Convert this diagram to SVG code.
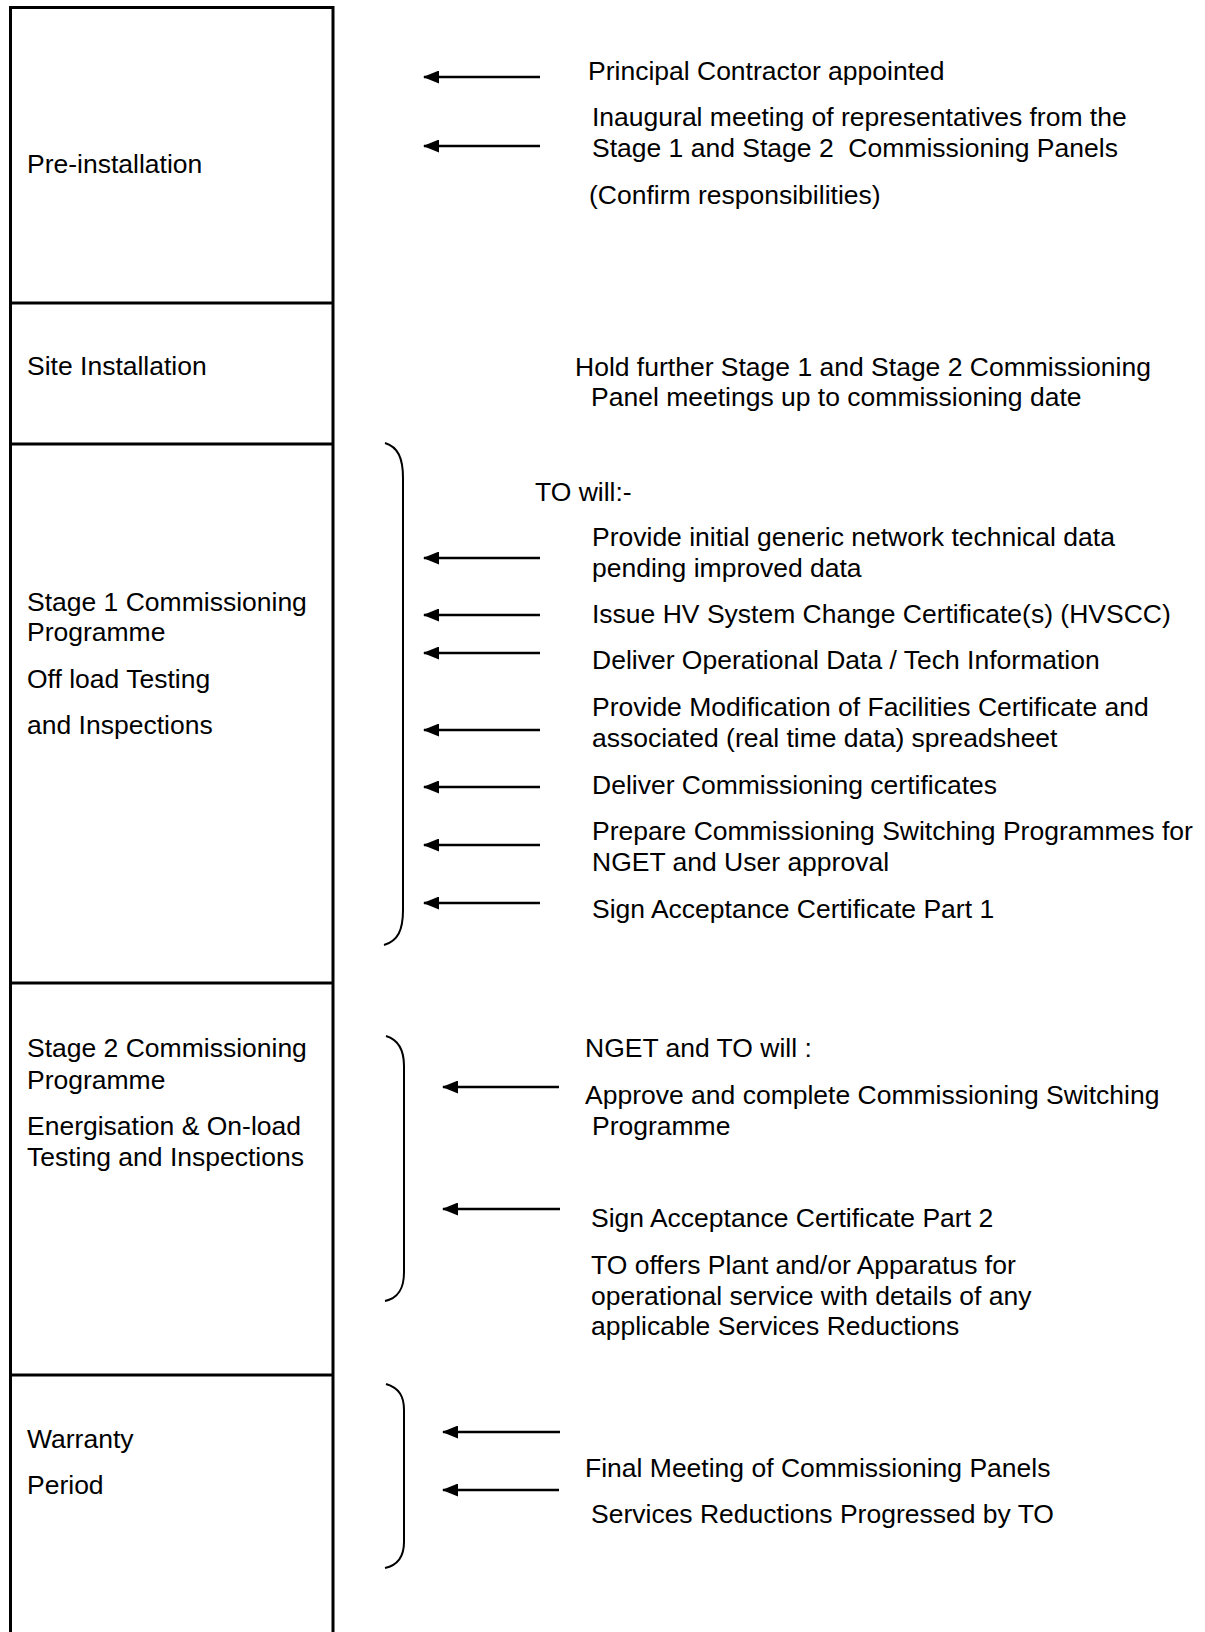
<svg xmlns="http://www.w3.org/2000/svg" width="1205" height="1632" viewBox="0 0 1205 1632">
<defs>
<marker id="ah" markerUnits="userSpaceOnUse" markerWidth="16" markerHeight="13" viewBox="0 0 16 13" refX="15" refY="6.5" orient="auto">
<path d="M0,0 L16,6.5 L0,13 z" fill="#000"/>
</marker>
<style>
text{font-family:"Liberation Sans",Arial,sans-serif;font-size:26.5px;fill:#000}
.box{fill:none;stroke:#000;stroke-width:3}
.arr{stroke:#000;stroke-width:2.6;fill:none;marker-end:url(#ah)}
.br{stroke:#000;stroke-width:2;fill:none}
</style>
</defs>
<rect width="1205" height="1632" fill="#fff"/>

<g id="phase-column">
<path class="box" d="M10.5,1640 L10.5,7.5 L333,7.5 L333,1640"/>
</g>

<g id="pre-installation">
<line class="box" x1="10.5" y1="303" x2="333" y2="303"/>
<text x="27" y="173">Pre-installation</text>
</g>
<g id="site-installation">
<line class="box" x1="10.5" y1="444" x2="333" y2="444"/>
<text x="27" y="375">Site Installation</text>
</g>
<g id="stage1">
<line class="box" x1="10.5" y1="983" x2="333" y2="983"/>
<text x="27" y="611">Stage 1 Commissioning</text>
<text x="27" y="641">Programme</text>
<text x="27" y="688">Off load Testing</text>
<text x="27" y="734">and Inspections</text>
</g>
<g id="stage2">
<line class="box" x1="10.5" y1="1375" x2="333" y2="1375"/>
<text x="27" y="1057">Stage 2 Commissioning</text>
<text x="27" y="1089">Programme</text>
<text x="27" y="1135">Energisation &amp; On-load</text>
<text x="27" y="1166">Testing and Inspections</text>
</g>
<g id="warranty">
<text x="27" y="1448">Warranty</text>
<text x="27" y="1494">Period</text>
</g>

<g id="pre-installation-actions">
<text x="588" y="80">Principal Contractor appointed</text>
<text x="592" y="126">Inaugural meeting of representatives from the</text>
<text x="592" y="157" xml:space="preserve">Stage 1 and Stage 2  Commissioning Panels</text>
<text x="589" y="204">(Confirm responsibilities)</text>
</g>
<g id="site-installation-actions">
<text x="575" y="376">Hold further Stage 1 and Stage 2 Commissioning</text>
<text x="591" y="406">Panel meetings up to commissioning date</text>
</g>
<g id="stage1-actions">
<text x="535" y="501">TO will:-</text>
<text x="592" y="546">Provide initial generic network technical data</text>
<text x="592" y="577">pending improved data</text>
<text x="592" y="623">Issue HV System Change Certificate(s) (HVSCC)</text>
<text x="592" y="669">Deliver Operational Data / Tech Information</text>
<text x="592" y="716">Provide Modification of Facilities Certificate and</text>
<text x="592" y="747">associated (real time data) spreadsheet</text>
<text x="592" y="794">Deliver Commissioning certificates</text>
<text x="592" y="840">Prepare Commissioning Switching Programmes for</text>
<text x="592" y="871">NGET and User approval</text>
<text x="592" y="918">Sign Acceptance Certificate Part 1</text>
</g>
<g id="stage2-actions">
<text x="585" y="1057">NGET and TO will :</text>
<text x="585" y="1104">Approve and complete Commissioning Switching</text>
<text x="592" y="1135">Programme</text>
<text x="591" y="1227">Sign Acceptance Certificate Part 2</text>
<text x="591" y="1274">TO offers Plant and/or Apparatus for</text>
<text x="591" y="1305">operational service with details of any</text>
<text x="591" y="1335">applicable Services Reductions</text>
</g>
<g id="warranty-actions">
<text x="585" y="1477">Final Meeting of Commissioning Panels</text>
<text x="591" y="1523">Services Reductions Progressed by TO</text>
</g>

<g id="connectors">
<line class="arr" x1="540" y1="77" x2="424" y2="77"/>
<line class="arr" x1="540" y1="146" x2="424" y2="146"/>
<line class="arr" x1="540" y1="558" x2="424" y2="558"/>
<line class="arr" x1="540" y1="615" x2="424" y2="615"/>
<line class="arr" x1="540" y1="653" x2="424" y2="653"/>
<line class="arr" x1="540" y1="730" x2="424" y2="730"/>
<line class="arr" x1="540" y1="787" x2="424" y2="787"/>
<line class="arr" x1="540" y1="845" x2="424" y2="845"/>
<line class="arr" x1="540" y1="903" x2="424" y2="903"/>
<line class="arr" x1="559" y1="1087" x2="443" y2="1087"/>
<line class="arr" x1="560" y1="1209" x2="443" y2="1209"/>
<line class="arr" x1="560" y1="1432" x2="443" y2="1432"/>
<line class="arr" x1="559" y1="1490" x2="443" y2="1490"/>
<path class="br" d="M385,443 C398,447 403,458 403,478 L403,910 C403,930 398,941 384,945"/>
<path class="br" d="M386,1036 C399,1040 404,1050 404,1066 L404,1272 C404,1288 399,1298 385,1301"/>
<path class="br" d="M386,1384 C399,1388 404,1396 404,1410 L404,1542 C404,1556 399,1565 385,1568"/>
</g>
</svg>
